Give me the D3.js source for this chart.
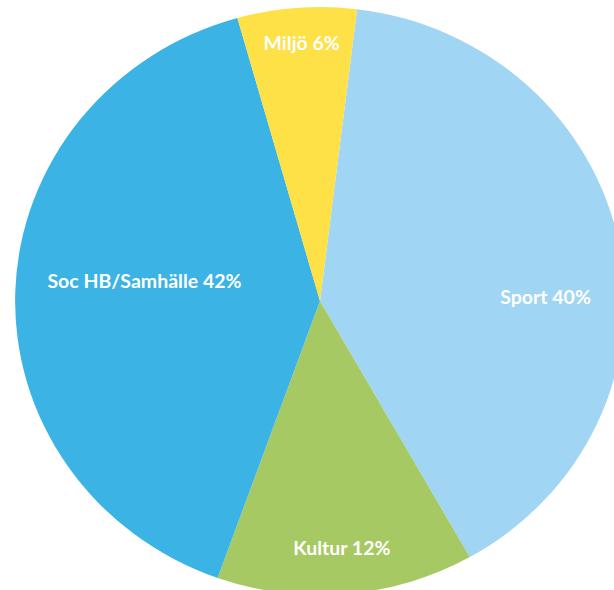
<!DOCTYPE html>
<html>
<head>
<meta charset="utf-8">
<script src="https://cdn.jsdelivr.net/npm/d3@7.9.0/dist/d3.min.js"></script>
<style>
  html, body { margin: 0; padding: 0; background: #fff; }
  svg { display: block; }
  .slice-label { font-family: Lato, 'Open Sans', sans-serif; font-weight: 700; fill: #fff; }
</style>
</head>
<body>
<svg id="chart" width="614" height="590"></svg>
<script>
// slice data, clockwise from the top-right
const categories = ['Sport', 'Kultur', 'Soc HB/Samhälle', 'Miljö'];
const shares = [39.8, 13.6, 40.1, 6.3];
const percentLabels = ['40%', '12%', '42%', '6%'];

const colors = ['#a0d6f3', '#a6c963', '#3bb3e4', '#fee047'];

// label placement: where in the slice (0..1 of its angle) and how far out
const labelAt = [
  { t: 0.57, r: 0.74 },
  { t: 0.5, r: 0.84 },
  { t: 0.534, r: 0.58 },
  { t: 0.52, r: 0.88 },
];

const width = 614;
const height = 590;
const cx = 320;
const cy = 301;
const radius = 294;
const stretch = 1.037; // the pie is drawn a little wider than tall

const svg = d3.select('#chart');

const data = categories.map((name, i) => ({ name, value: shares[i] }));

const startAngle = (7 * Math.PI) / 180;
const pie = d3
  .pie()
  .sort(null)
  .value((d) => d.value)
  .startAngle(startAngle)
  .endAngle(startAngle + 2 * Math.PI);

const arcData = pie(data);
const arc = d3.arc().innerRadius(0).outerRadius(radius);

const g = svg
  .append('g')
  .attr('transform', `translate(${cx},${cy}) scale(${stretch},1)`);

g.selectAll('path')
  .data(arcData)
  .join('path')
  .attr('d', arc)
  .attr('fill', (d, i) => colors[i]);

// labels sit outside the scaled group so text is not stretched
svg
  .selectAll('text.slice-label')
  .data(arcData)
  .join('text')
  .attr('class', 'slice-label')
  .attr('font-size', 19.5)
  .attr('text-anchor', 'middle')
  .attr('dominant-baseline', 'central')
  .attr('x', (d, i) => {
    let a = d.startAngle + (d.endAngle - d.startAngle) * labelAt[i].t;
    return cx + Math.sin(a) * radius * labelAt[i].r * stretch;
  })
  .attr('y', (d, i) => {
    let a = d.startAngle + (d.endAngle - d.startAngle) * labelAt[i].t;
    return cy - Math.cos(a) * radius * labelAt[i].r;
  })
  .text((d, i) => `${d.data.name} ${percentLabels[i]}`);
</script>
</body>
</html>
